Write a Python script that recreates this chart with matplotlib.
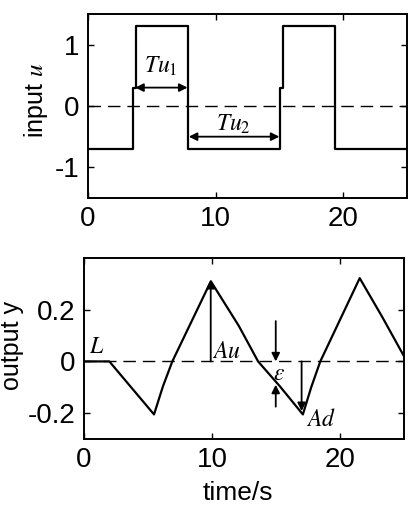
import matplotlib
matplotlib.use("Agg")
import matplotlib.pyplot as plt

plt.rcParams['font.family'] = ['Liberation Sans', 'DejaVu Sans']
plt.rcParams['mathtext.fontset'] = 'stix'

# ---- data ----
t_in = [0, 3.5, 3.5, 3.76, 3.76, 7.87, 7.87, 15.06, 15.06, 15.32, 15.32, 19.35, 19.35, 25]
u_in = [-0.7, -0.7, 0.3, 0.3, 1.3, 1.3, -0.7, -0.7, 0.3, 0.3, 1.3, 1.3, -0.7, -0.7]

t_out = [0, 1.98, 5.47, 6.17, 6.90, 9.91, 12.1, 13.6, 15.3, 17.1,
         17.75, 18.46, 21.54, 23.3, 25]
y_out = [0, 0, -0.205, -0.096, 0.0, 0.31, 0.137, 0.0, -0.096, -0.205,
         -0.1, 0.0, 0.322, 0.172, 0.02]

xticks = [0, 10, 20]
yticks_in = [-1, 0, 1]
yticks_out = [-0.2, 0, 0.2]
yticklabels_out = ['-0.2', '0', '0.2']

W, H = 411, 509
fig = plt.figure(figsize=(W / 100, H / 100), dpi=100)

def px_axes(l, r, t, b):
    return fig.add_axes([l / W, 1 - b / H, (r - l) / W, (b - t) / H])

ax1 = px_axes(88, 407, 14, 198)
ax2 = px_axes(84, 404, 258, 439)

dash = (0, (9, 5))
for ax in (ax1, ax2):
    ax.set_xlim(0, 25)
    ax.set_xticks(xticks)
    ax.set_xticklabels([str(v) for v in xticks])
    ax.tick_params(direction='in', top=True, right=True, length=4, width=1.0,
                   labelsize=20, pad=6)
    for s in ax.spines.values():
        s.set_linewidth(1.4)
    ax.axhline(0, color='k', lw=1.0, ls=dash)

# top: input
ax1.plot(t_in, u_in, color='k', lw=1.6)
ax1.set_ylim(-1.5, 1.5)
ax1.set_yticks(yticks_in)
ax1.set_yticklabels(['-1', '0', '1'])

ap2 = dict(arrowstyle='<|-|>', color='k', lw=1.3, mutation_scale=12,
           shrinkA=0, shrinkB=0)
ap1 = dict(arrowstyle='-|>', color='k', lw=1.3, mutation_scale=12,
           shrinkA=0, shrinkB=0)
ax1.annotate('', xy=(7.8, 0.3), xytext=(3.7, 0.3), arrowprops=ap2)
ax1.annotate('', xy=(15.0, -0.5), xytext=(7.9, -0.5), arrowprops=ap2)
ax1.text(5.7, 0.64, r'$Tu_1$', fontsize=17, ha='center', va='center')
ax1.text(11.4, -0.3, r'$Tu_2$', fontsize=17, ha='center', va='center')

# bottom: output
ax2.plot(t_out, y_out, color='k', lw=1.6)
ax2.set_ylim(-0.3, 0.4)
ax2.set_yticks(yticks_out)
ax2.set_yticklabels(yticklabels_out)

ax2.annotate('', xy=(9.9, 0.315), xytext=(9.9, 0.0), arrowprops=ap1)
ax2.annotate('', xy=(17.0, -0.192), xytext=(17.0, 0.0), arrowprops=ap1)
ax2.annotate('', xy=(14.98, 0.0), xytext=(14.98, 0.156), arrowprops=ap1)
ax2.annotate('', xy=(14.98, -0.09), xytext=(14.98, -0.175), arrowprops=ap1)
ax2.text(1.0, 0.055, r'$L$', fontsize=17, ha='center', va='center')
ax2.text(11.1, 0.035, r'$Au$', fontsize=17, ha='center', va='center')
ax2.text(15.2, -0.05, r'$\varepsilon$', fontsize=17, ha='center', va='center')
ax2.text(18.5, -0.228, r'$Ad$', fontsize=17, ha='center', va='center')

# labels
fig.text(36 / W, 1 - 100 / H, r'input $u$', rotation=90, ha='center', va='center',
         fontsize=18)
fig.text(12 / W, 1 - 346 / H, 'output y', rotation=90, ha='center', va='center',
         fontsize=18)
fig.text(238 / W, 1 - 500 / H, 'time/s', ha='center', va='baseline', fontsize=19)

fig.savefig('out.png', dpi=100, facecolor='white')
